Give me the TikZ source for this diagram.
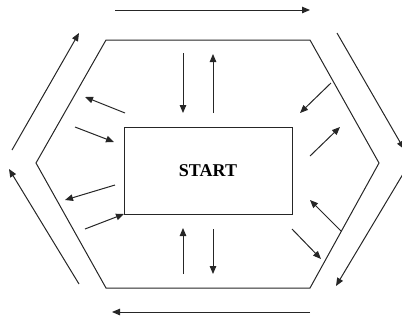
\documentclass[tikz,border=0pt]{standalone}
\usepackage{fontspec}
\setmainfont{Liberation Serif}
\usetikzlibrary{arrows.meta}
\begin{document}
\begin{tikzpicture}[x=1pt,y=-1pt,
  edge/.style={draw=black!85,line width=1pt},
  arr/.style={draw=black!85,line width=1pt,-{Triangle[length=8pt,width=6.5pt]}},
  box/.style={draw=black!85,line width=1pt,minimum width=168pt,minimum height=87pt,inner sep=0pt,font=\fontsize{18}{20}\selectfont\bfseries}]
\useasboundingbox (0,0) rectangle (402,322);
% hexagon
\coordinate (h1) at (106,40);
\coordinate (h2) at (310,40);
\coordinate (h3) at (379,163);
\coordinate (h4) at (310,288);
\coordinate (h5) at (106,288);
\coordinate (h6) at (36,163);
\draw[edge] (h1) -- (h2) -- (h3) -- (h4) -- (h5) -- (h6) -- cycle;
% centre box
\node[box] (start) at (208,170.5) {START};
% outer arrows
\coordinate (ta) at (115,10);   \coordinate (tb) at (310,10);
\coordinate (rua) at (337,33);  \coordinate (rub) at (404,149);
\coordinate (rla) at (406,169); \coordinate (rlb) at (336,286);
\coordinate (ba) at (310,312);  \coordinate (bb) at (112,312);
\coordinate (lla) at (79,284);  \coordinate (llb) at (9,169);
\coordinate (lua) at (12,150);  \coordinate (lub) at (79,33);
\draw[arr] (ta) -- (tb);
\draw[arr] (rua) -- (rub);
\draw[arr] (rla) -- (rlb);
\draw[arr] (ba) -- (bb);
\draw[arr] (lla) -- (llb);
\draw[arr] (lua) -- (lub);
% inner top
\coordinate (t1a) at (183,53);  \coordinate (t1b) at (183,113);
\coordinate (t2a) at (213,113); \coordinate (t2b) at (213,54);
\draw[arr] (t1a) -- (t1b);
\draw[arr] (t2a) -- (t2b);
% inner bottom
\coordinate (b1a) at (183,274); \coordinate (b1b) at (183,228);
\coordinate (b2a) at (213,229); \coordinate (b2b) at (213,274);
\draw[arr] (b1a) -- (b1b);
\draw[arr] (b2a) -- (b2b);
% inner left
\coordinate (l1a) at (125,113); \coordinate (l1b) at (85,97);
\coordinate (l2a) at (75,127);  \coordinate (l2b) at (114,142);
\coordinate (l3a) at (115,185); \coordinate (l3b) at (65,200);
\coordinate (l4a) at (85,229);  \coordinate (l4b) at (124,214);
\draw[arr] (l1a) -- (l1b);
\draw[arr] (l2a) -- (l2b);
\draw[arr] (l3a) -- (l3b);
\draw[arr] (l4a) -- (l4b);
% inner right
\coordinate (r1a) at (331,83);  \coordinate (r1b) at (300,113);
\coordinate (r2a) at (310,156); \coordinate (r2b) at (340,127);
\coordinate (r3a) at (341,231); \coordinate (r3b) at (310,200);
\coordinate (r4a) at (292,229); \coordinate (r4b) at (321,259);
\draw[arr] (r1a) -- (r1b);
\draw[arr] (r2a) -- (r2b);
\draw[arr] (r3a) -- (r3b);
\draw[arr] (r4a) -- (r4b);
\end{tikzpicture}
\end{document}
